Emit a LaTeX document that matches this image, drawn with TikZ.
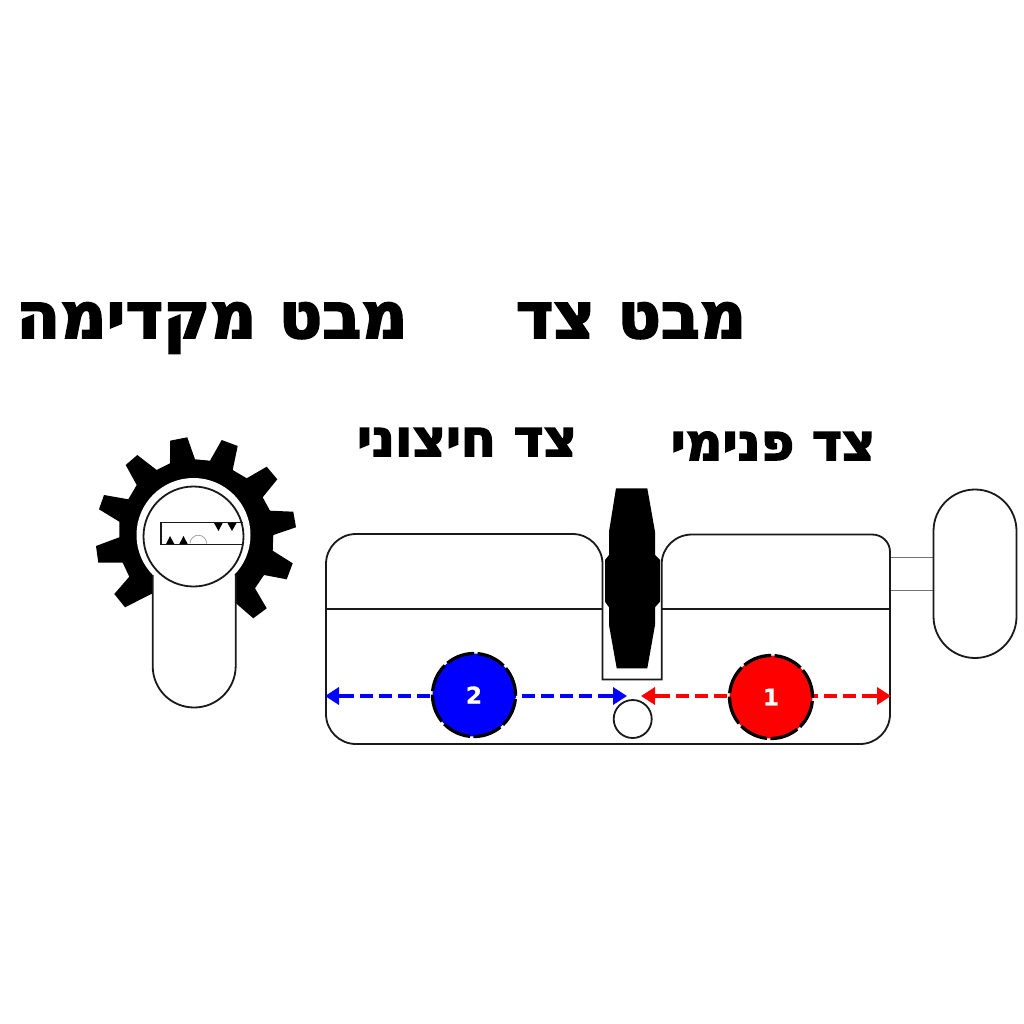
\documentclass[tikz,border=0pt]{standalone}
\usepackage{fontspec}
\usetikzlibrary{arrows.meta}
\TeXXeTstate=1
\newfontfamily\hebfont[Script=Hebrew,FakeBold=3]{DejaVu Sans Bold}
\newfontfamily\numfont[FakeBold=1]{DejaVu Sans Bold}
\definecolor{bluec}{RGB}{0,0,255}
\definecolor{redc}{RGB}{255,0,0}
\tikzset{
  x=1pt,y=-1pt,
  outline/.style={draw=black!90,line width=1.8pt},
  thinline/.style={draw=black!55,line width=0.9pt},
  title/.style={font=\hebfont\fontsize{64}{66}\selectfont,inner sep=0pt,anchor=base},
  subtitle/.style={font=\hebfont\fontsize{51}{54}\selectfont,inner sep=0pt,anchor=base},
  badge/.style={circle,minimum size=83pt,inner sep=0pt,draw=black,line width=3.3pt,dash pattern=on 29pt off 3.5pt,text=white,font=\numfont\fontsize{23}{25}\selectfont},
  dimline/.style={line width=4pt,dash pattern=on 13pt off 6pt},
  tipsolid/.style={line width=4pt,{Triangle[length=14pt,width=17pt]}-,line join=round},
}
\begin{document}
\begin{tikzpicture}
\useasboundingbox (0,0) rectangle (1024,1024);
\fill[white] (0,0) rectangle (1024,1024);
% titles
\node[title] (tfront) at (212,338) {\beginR מבט מקדימה\endR};
\node[title] (tside) at (631,338) {\beginR מבט צד\endR};
\node[subtitle] (tout) at (467,456) {\beginR צד חיצוני\endR};
\node[subtitle] (tin) at (773,460) {\beginR צד פנימי\endR};
% gear
\fill[black,line join=round] (170,440.7)--(187.3,437.3)--(195,459.3)--(210,460.7)--(221.7,440)--(237.7,446)--(232.7,470)--(246.7,478.3)--(266.7,466.7)--(277.3,479.3)--(262.7,497.3)--(270,510.7)--(293.3,511.7)--(296,527.3)--(273.3,535)--(272.7,550.7)--(292.7,563.3)--(286.7,579.3)--(264,575)--(255,588.3)--(266.7,608.3)--(253.3,618.3)--(236,603.3)--(235,580)--(152.7,580)--(152.7,593.3)--(125,607.3)--(114.3,594)--(129.3,576.7)--(122.7,562.7)--(98.3,562.7)--(96,546)--(119.3,537.3)--(119.3,521.7)--(99,509.3)--(104,495)--(128.3,499.3)--(136.7,485)--(125.7,465)--(137.3,455)--(156.7,470)--(170,463.3)--cycle;
\fill[white] (193.5,535) circle[radius=57];
% front cylinder
\path[outline,fill=white] (152.7,575)--(152.7,666) .. controls (152.7,689) and (171,707.5) .. (194.2,707.5) .. controls (217,707.5) and (235.7,689) .. (235.7,666)--(235.7,575);
\path[outline,fill=white] (193.5,536.5) circle[radius=50];
\path[draw=black!90,line width=1.8pt] (243,522.5)--(160.7,522.5)--(160.7,544.5)--(243,544.5);
\fill (214,523)--(222.7,523)--(218.5,531)--cycle;
\fill (227.5,523)--(236.5,523)--(232,531)--cycle;
\fill (166,544)--(174.3,544)--(170,536)--cycle;
\fill (179.3,544)--(187.7,544)--(183.5,536)--cycle;
\draw[black!40,line width=0.7pt] (190,543.5) .. controls (190,539) and (194,535.2) .. (198.3,535.2) .. controls (203,535.2) and (206.6,539) .. (206.6,543.5);
% stem and knob
\draw[thinline] (890,557)--(933,557) (890,590)--(933,590);
\draw[outline,fill=white,rounded corners=41.5] (933.5,489.5) rectangle (1016.5,658);
% side body
\draw[outline] (602.5,679.5)--(602.5,564) .. controls (602.5,547.4) and (589.1,534) .. (572.5,534)--(356,534) .. controls (339.4,534) and (326,547.4) .. (326,564)--(326,714) .. controls (326,730.6) and (339.4,744) .. (356,744)--(860,744) .. controls (876.6,744) and (890,730.6) .. (890,714)--(890,552) .. controls (890,542) and (882,534.5) .. (872,534.5)--(692,534.5) .. controls (675.4,534.5) and (661.7,547.4) .. (661.7,564)--(661.7,679.5)--cycle;
\draw[outline] (326,609)--(602.5,609) (661.7,609)--(890,609);
% cam
\fill[black] (616,488.3)--(647.3,488.3)--(655,531.7)--(655,555)--(660,560)--(660,601.7)--(655,607.3)--(655,625)--(647.3,668.3)--(616.7,668.3)--(609,625)--(609,607.3)--(605,601.7)--(605,560)--(609,555)--(609,531.7)--cycle;
% pin
\node[circle,minimum size=38pt,inner sep=0pt,outline,fill=white] (pin) at (632.7,719) {};
% dimensions
\coordinate (bl) at (325,696);
\coordinate (blb) at (341,696);
\coordinate (br) at (627,696);
\coordinate (brb) at (611,696);
\coordinate (rl) at (641,696);
\coordinate (rlb) at (657,696);
\coordinate (rr) at (891,696);
\coordinate (rrb) at (875,696);
\coordinate (b2) at (474,696);
\coordinate (b1) at (771,696);
\draw[bluec,dimline] (blb) -- (b2);
\draw[bluec,tipsolid] (bl) -- (blb);
\draw[bluec,dimline] (brb) -- (b2);
\draw[bluec,tipsolid] (br) -- (brb);
\draw[redc,dimline] (rlb) -- (b1);
\draw[redc,tipsolid] (rl) -- (rlb);
\draw[redc,dimline] (rrb) -- (b1);
\draw[redc,tipsolid] (rr) -- (rrb);
\node[badge,fill=bluec] (n2) at (474,695) {2};
\node[badge,fill=redc] (n1) at (771,697) {1};
\end{tikzpicture}
\end{document}
